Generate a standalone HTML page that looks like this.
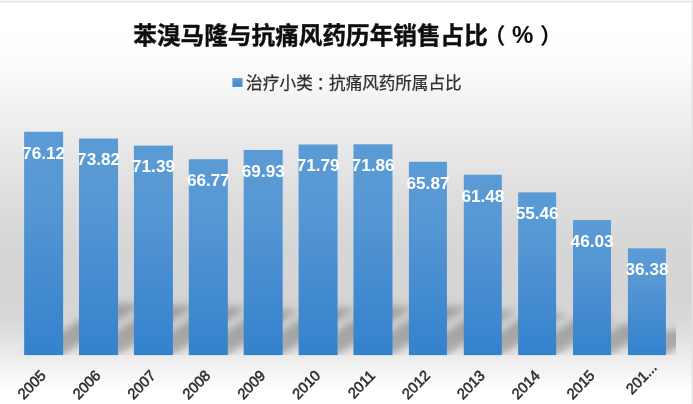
<!DOCTYPE html>
<html lang="zh"><head><meta charset="utf-8"><title>chart</title>
<style>html,body{margin:0;padding:0;background:#fff;font-family:"Liberation Sans",sans-serif;}body{width:693px;height:404px;overflow:hidden;}svg{display:block;}</style>
</head><body>
<svg width="693" height="404" viewBox="0 0 693 404">
<defs>
<linearGradient id="bg" gradientUnits="userSpaceOnUse" x1="0" y1="0" x2="0" y2="404">
<stop offset="0.0000" stop-color="#ffffff"/>
<stop offset="0.0743" stop-color="#ffffff"/>
<stop offset="0.1485" stop-color="#fcfcfc"/>
<stop offset="0.2475" stop-color="#f3f3f3"/>
<stop offset="0.3713" stop-color="#e8e8e8"/>
<stop offset="0.4950" stop-color="#dddddd"/>
<stop offset="0.6188" stop-color="#d6d6d6"/>
<stop offset="0.7426" stop-color="#d5d5d5"/>
<stop offset="0.7871" stop-color="#d8d8d8"/>
<stop offset="0.8292" stop-color="#e0e0e0"/>
<stop offset="0.8787" stop-color="#ebebeb"/>
<stop offset="0.9158" stop-color="#f3f3f3"/>
<stop offset="0.9455" stop-color="#fafafa"/>
<stop offset="0.9752" stop-color="#ffffff"/>
<stop offset="1.0000" stop-color="#ffffff"/>
</linearGradient>
<linearGradient id="bar" x1="0" y1="0" x2="0" y2="1">
<stop offset="0" stop-color="#5b9bd5"/>
<stop offset="0.3" stop-color="#5698d4"/>
<stop offset="0.57" stop-color="#498ed1"/>
<stop offset="1" stop-color="#3482cd"/>
</linearGradient>
<filter id="blur" x="-20%" y="-50%" width="140%" height="200%"><feGaussianBlur stdDeviation="3.5"/></filter>
<filter id="blur2" x="-20%" y="-100%" width="140%" height="300%"><feGaussianBlur stdDeviation="7"/></filter>
<filter id="soft" x="-5%" y="-20%" width="110%" height="140%"><feGaussianBlur stdDeviation="0.45"/></filter>
<filter id="softdl" x="-5%" y="-20%" width="110%" height="140%"><feGaussianBlur stdDeviation="0.55"/></filter>
<linearGradient id="lgm" x1="0" y1="0" x2="0" y2="1"><stop offset="0" stop-color="#5b9bd5"/><stop offset="1" stop-color="#3f8ad2"/></linearGradient>
<clipPath id="plot"><rect x="16.18" y="100" width="659.82" height="255.1"/></clipPath>
</defs>
<rect width="693" height="404" fill="url(#bg)"/>
<g filter="url(#soft)"><rect x="-5" y="0.8" width="703" height="1.7" fill="#e2e2e2"/>
<rect x="691.6" y="0.8" width="6" height="414" fill="#e2e2e2"/></g>
<g clip-path="url(#plot)">
<g filter="url(#blur2)" fill="#000" fill-opacity="0.09">
<path d="M24.13 355.1L63.13 355.1L144.42 303.73L105.42 303.73Z"/>
<path d="M79.02 355.1L118.02 355.1L196.86 305.28L157.86 305.28Z"/>
<path d="M133.91 355.1L172.91 355.1L249.15 306.92L210.15 306.92Z"/>
<path d="M188.8 355.1L227.8 355.1L299.11 310.04L260.11 310.04Z"/>
<path d="M243.69 355.1L282.69 355.1L357.37 307.91L318.37 307.91Z"/>
<path d="M298.58 355.1L337.58 355.1L414.25 306.65L375.25 306.65Z"/>
<path d="M353.47 355.1L392.47 355.1L469.21 306.61L430.21 306.61Z"/>
<path d="M408.91 355.1L446.91 355.1L517.26 310.65L479.26 310.65Z"/>
<path d="M463.8 355.1L501.8 355.1L567.46 313.61L529.46 313.61Z"/>
<path d="M518.14 355.1L556.14 355.1L615.37 317.67L577.37 317.67Z"/>
<path d="M573.03 355.1L611.03 355.1L660.19 324.04L622.19 324.04Z"/>
<path d="M627.92 355.1L665.92 355.1L704.77 330.55L666.77 330.55Z"/>
</g>
<g filter="url(#blur)" fill="#000" fill-opacity="0.2">
<path d="M24.13 355.1L63.13 355.1L144.42 303.73L105.42 303.73Z"/>
<path d="M79.02 355.1L118.02 355.1L196.86 305.28L157.86 305.28Z"/>
<path d="M133.91 355.1L172.91 355.1L249.15 306.92L210.15 306.92Z"/>
<path d="M188.8 355.1L227.8 355.1L299.11 310.04L260.11 310.04Z"/>
<path d="M243.69 355.1L282.69 355.1L357.37 307.91L318.37 307.91Z"/>
<path d="M298.58 355.1L337.58 355.1L414.25 306.65L375.25 306.65Z"/>
<path d="M353.47 355.1L392.47 355.1L469.21 306.61L430.21 306.61Z"/>
<path d="M408.91 355.1L446.91 355.1L517.26 310.65L479.26 310.65Z"/>
<path d="M463.8 355.1L501.8 355.1L567.46 313.61L529.46 313.61Z"/>
<path d="M518.14 355.1L556.14 355.1L615.37 317.67L577.37 317.67Z"/>
<path d="M573.03 355.1L611.03 355.1L660.19 324.04L622.19 324.04Z"/>
<path d="M627.92 355.1L665.92 355.1L704.77 330.55L666.77 330.55Z"/>
</g></g>
<g fill="url(#bar)">
<rect x="24.13" y="131.76" width="39" height="223.34"/>
<rect x="79.02" y="138.51" width="39" height="216.59"/>
<rect x="133.91" y="145.64" width="39" height="209.46"/>
<rect x="188.8" y="159.2" width="39" height="195.9"/>
<rect x="243.69" y="149.93" width="39" height="205.17"/>
<rect x="298.58" y="144.47" width="39" height="210.63"/>
<rect x="353.47" y="144.26" width="39" height="210.84"/>
<rect x="408.91" y="161.84" width="38" height="193.26"/>
<rect x="463.8" y="174.72" width="38" height="180.38"/>
<rect x="518.14" y="192.38" width="38" height="162.72"/>
<rect x="573.03" y="220.05" width="38" height="135.05"/>
<rect x="627.92" y="248.36" width="38" height="106.74"/>
</g>
<g filter="url(#softdl)" fill="#fff" font-family="&quot;Liberation Sans&quot;, sans-serif" font-size="15.7" font-weight="bold">
<text x="22.2" y="158.54" textLength="43" lengthAdjust="spacingAndGlyphs">76.12</text>
<text x="77.1" y="165.29" textLength="43" lengthAdjust="spacingAndGlyphs">73.82</text>
<text x="132" y="172.42" textLength="43" lengthAdjust="spacingAndGlyphs">71.39</text>
<text x="186.9" y="185.98" textLength="43" lengthAdjust="spacingAndGlyphs">66.77</text>
<text x="241.8" y="176.71" textLength="43" lengthAdjust="spacingAndGlyphs">69.93</text>
<text x="296.7" y="171.25" textLength="43" lengthAdjust="spacingAndGlyphs">71.79</text>
<text x="351.6" y="171.04" textLength="43" lengthAdjust="spacingAndGlyphs">71.86</text>
<text x="406.5" y="188.62" textLength="43" lengthAdjust="spacingAndGlyphs">65.87</text>
<text x="461.4" y="201.5" textLength="43" lengthAdjust="spacingAndGlyphs">61.48</text>
<text x="515.7" y="219.16" textLength="43" lengthAdjust="spacingAndGlyphs">55.46</text>
<text x="570.6" y="246.83" textLength="43" lengthAdjust="spacingAndGlyphs">46.03</text>
<text x="625.5" y="275.14" textLength="43" lengthAdjust="spacingAndGlyphs">36.38</text>
</g>
<g fill="#2c2c2c" stroke="#2c2c2c" stroke-width="0.5" filter="url(#soft)" font-family="&quot;Liberation Sans&quot;, sans-serif" font-size="14.5" text-anchor="end">
<text transform="translate(46.63 376.4) scale(1 1.05) rotate(-45)" x="0" y="0">2005</text>
<text transform="translate(101.52 376.4) scale(1 1.05) rotate(-45)" x="0" y="0">2006</text>
<text transform="translate(156.41 376.4) scale(1 1.05) rotate(-45)" x="0" y="0">2007</text>
<text transform="translate(211.3 376.4) scale(1 1.05) rotate(-45)" x="0" y="0">2008</text>
<text transform="translate(266.19 376.4) scale(1 1.05) rotate(-45)" x="0" y="0">2009</text>
<text transform="translate(321.08 376.4) scale(1 1.05) rotate(-45)" x="0" y="0">2010</text>
<text transform="translate(375.97 376.4) scale(1 1.05) rotate(-45)" x="0" y="0">2011</text>
<text transform="translate(430.86 376.4) scale(1 1.05) rotate(-45)" x="0" y="0">2012</text>
<text transform="translate(485.75 376.4) scale(1 1.05) rotate(-45)" x="0" y="0">2013</text>
<text transform="translate(540.64 376.4) scale(1 1.05) rotate(-45)" x="0" y="0">2014</text>
<text transform="translate(595.53 376.4) scale(1 1.05) rotate(-45)" x="0" y="0">2015</text>
<text transform="translate(657.72 368.2) scale(1 1.05) rotate(-45)" x="0" y="0">201...</text>
</g>
<g fill="#0c0c0c" stroke="#0c0c0c" stroke-width="0.4" filter="url(#soft)" font-family="&quot;Liberation Sans&quot;, &quot;Noto Sans CJK SC&quot;, sans-serif" font-size="23.6" font-weight="bold">
<text x="133.31" y="44.37" textLength="354.5" lengthAdjust="spacing">苯溴马隆与抗痛风药历年销售占比</text>
</g>
<g fill="#0c0c0c" filter="url(#soft)" font-family="&quot;Liberation Sans&quot;, &quot;Noto Sans CJK SC&quot;, sans-serif" font-weight="bold">
<text x="505.5" y="42.89" font-size="22" text-anchor="end">（</text>
<text x="511.88" y="43.46" font-size="24">%</text>
<text x="540" y="42.89" font-size="22">）</text>
</g>
<rect x="232.4" y="78.1" width="10.1" height="8.8" fill="url(#lgm)"/>
<g fill="#2e2e2e" stroke="#2e2e2e" stroke-width="0.25" filter="url(#soft)" font-family="&quot;Liberation Sans&quot;, &quot;Noto Sans CJK SC&quot;, sans-serif" font-size="16.6">
<text x="245.91" y="89.25" textLength="67" lengthAdjust="spacing">治疗小类</text>
<text x="316.5" y="89.25">：</text>
<text x="329.08" y="89.25" textLength="132.5" lengthAdjust="spacing">抗痛风药所属占比</text>
</g>
</svg>
</body></html>
